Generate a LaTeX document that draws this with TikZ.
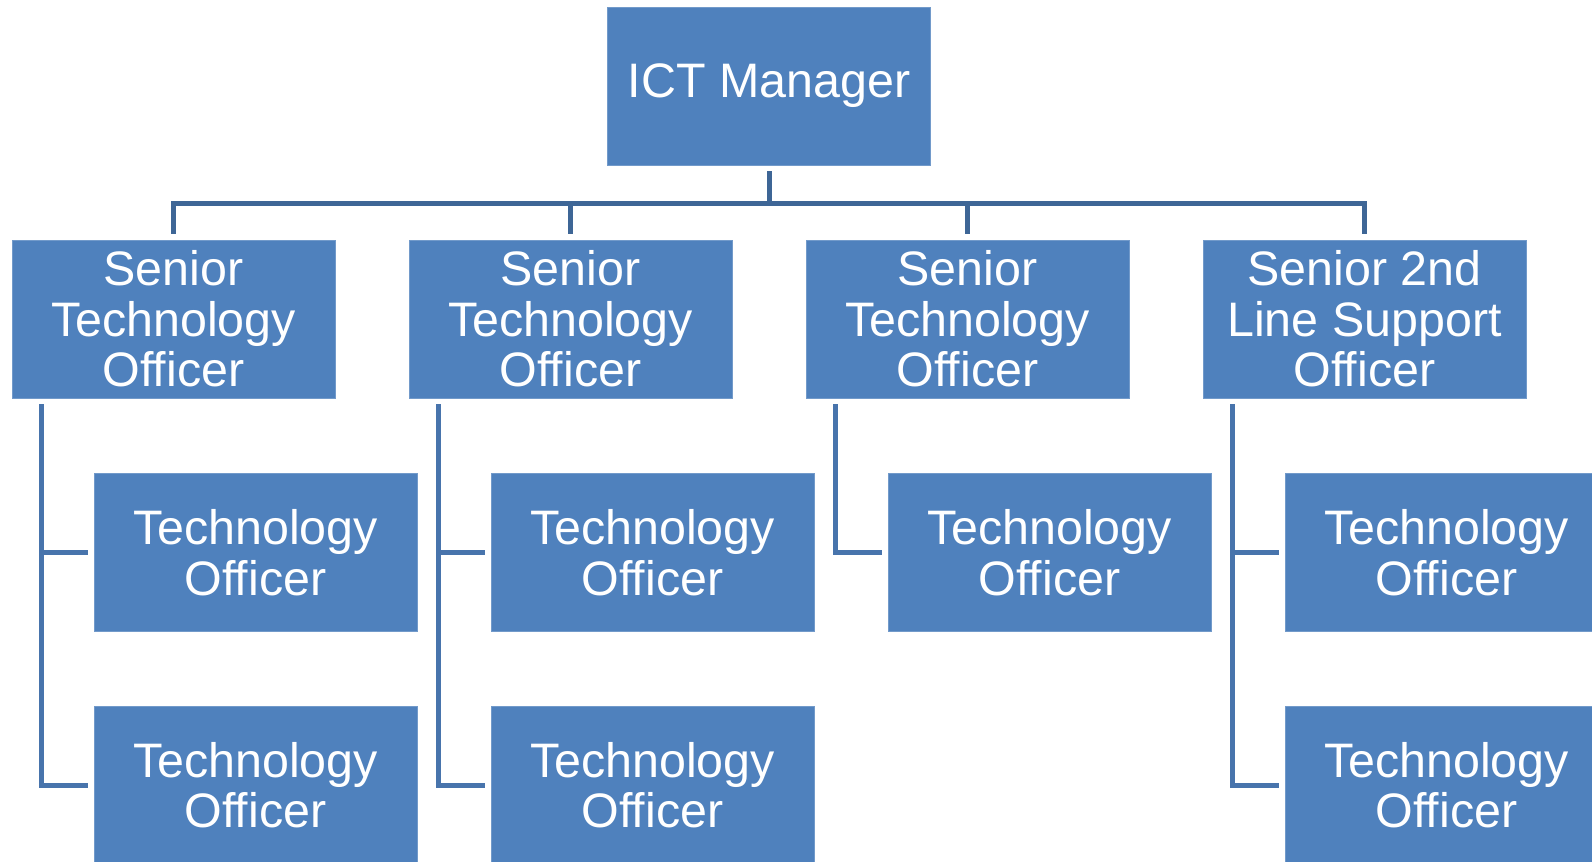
\documentclass[tikz,border=0pt]{standalone}
\usepackage{fontspec}
\setmainfont{Liberation Sans}
\usetikzlibrary{calc,positioning}

\definecolor{boxblue}{RGB}{79,129,189}
\definecolor{topline}{RGB}{62,102,150}
\definecolor{subline}{RGB}{72,116,172}

\tikzset{
  unit/.style={rectangle,fill=boxblue,draw=boxblue!80!white,line width=0.4pt,
    minimum width=161.5pt,minimum height=79pt,inner sep=0pt,
    text=white,align=center,font=\fontsize{24.2}{25.3}\selectfont},
  link/.style={draw=topline,line width=2.5pt},
  sublink/.style={draw=subline,line width=2.5pt}
}

\begin{document}
\begin{tikzpicture}[x=0.5pt,y=-0.5pt]
  \useasboundingbox (0,0) rectangle (1592,862);

  \node[unit] (boss) at (769,86) {ICT Manager};

  % senior row
  \node[unit] (s1) at (173.5,319) {Senior\\Technology\\Officer};
  \node[unit] (s2) at (570.5,319) {Senior\\Technology\\Officer};
  \node[unit] (s3) at (967.5,319) {Senior\\Technology\\Officer};
  \node[unit] (s4) at (1364.5,319) {Senior 2nd\\Line Support\\Officer};

  % technology officers
  \node[unit] (t1a) at (255.5,552.5) {Technology\\Officer};
  \node[unit] (t1b) at (255.5,785) {Technology\\Officer};
  \node[unit] (t2a) at (652.5,552.5) {Technology\\Officer};
  \node[unit] (t2b) at (652.5,785) {Technology\\Officer};
  \node[unit] (t3a) at (1049.5,552.5) {Technology\\Officer};
  \node[unit] (t4a) at (1446.5,552.5) {Technology\\Officer};
  \node[unit] (t4b) at (1446.5,785) {Technology\\Officer};

  % top connectors
  \coordinate (bar) at ($(boss.south)+(0,38)$);
  \draw[link] ($(boss.south)+(0,6)$) -- (bar);
  \draw[link,line cap=rect] (bar -| s1.north) -- (bar -| s4.north);
  \foreach \s in {s1,s2,s3,s4}
    \draw[link] (bar -| \s.north) -- ($(\s.north)+(0,-6)$);

  % side brackets
  \foreach \s/\a in {s1/t1a,s2/t2a,s3/t3a,s4/t4a}
    \draw[sublink] ($(\s.south west)+(30,6)$) |- ($(\a.west)+(-6,0)$);
  \foreach \s/\b in {s1/t1b,s2/t2b,s4/t4b}
    \draw[sublink] ($(\s.south west)+(30,6)$) |- ($(\b.west)+(-6,0)$);
\end{tikzpicture}
\end{document}
